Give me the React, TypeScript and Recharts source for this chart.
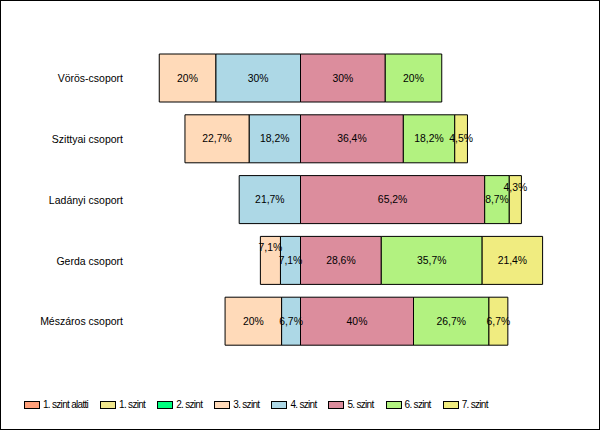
import React from 'react';
import { BarChart, Bar, XAxis, YAxis } from 'recharts';

const categories = ['Vörös-csoport', 'Szittyai csoport', 'Ladányi csoport', 'Gerda csoport', 'Mészáros csoport'];
const levels = ['1. szint alatti', '1. szint', '2. szint', '3. szint', '4. szint', '5. szint', '6. szint', '7. szint'];
const colors = ['#FFA07A', '#F0E68C', '#00FF7F', '#FFDAB9', '#ADD8E6', '#DC8D9D', '#B2F280', '#F0EC80'];

const below1 = [0, 0, 0, 0, 0];
const level1 = [0, 0, 0, 0, 0];
const level2 = [0, 0, 0, 0, 0];
const level3 = [20, 22.7, 0, 7.1, 20];
const level4 = [30, 18.2, 21.7, 7.1, 6.7];
const level5 = [30, 36.4, 65.2, 28.6, 40];
const level6 = [20, 18.2, 8.7, 35.7, 26.7];
const level7 = [0, 4.5, 4.3, 21.4, 6.7];

const series = [below1, level1, level2, level3, level4, level5, level6, level7];
// levels below 5. szint go to the left of the centre line
const leftOrder = [4, 3, 2, 1, 0];
const rightOrder = [5, 6, 7];

const data = categories.map((name, i) => {
  const row: any = { name };
  series.forEach((s, k) => {
    row['s' + k] = k <= 4 ? -s[i] : s[i];
  });
  return row;
});

const FONT = '"Liberation Sans", Arial, sans-serif';
const LABEL_SIZE = 10.4;

const fmt = (v: number) => String(v).replace('.', ',') + '%';
const textWidth = (t: string) => {
  let w = 0;
  for (const c of t) {
    if (c === ',' || c === '.') w += 0.278;
    else if (c === '%') w += 0.889;
    else w += 0.556;
  }
  return w * LABEL_SIZE;
};

// rows with a drawn (non-zero) segment, in order, for each level
const drawnRows = series.map((s) => s.map((v, i) => (v ? i : -1)).filter((i) => i >= 0));

const makeLabel = (k: number, inner: number | null) => (props: any) => {
  const { x, y, width, height, index } = props;
  const row = drawnRows[k][index];
  if (row === undefined) return null;
  const v = series[k][row];
  if (!v) return null;
  const text = fmt(v);
  const cx = x + width / 2;
  let cy = y + height / 2;
  if (inner !== null) {
    const nv = series[inner][row];
    if (nv) {
      const ppu = Math.abs(width) / v;
      const dist = (v / 2 + nv / 2) * ppu;
      const need = (textWidth(text) + textWidth(fmt(nv))) / 2;
      if (dist < need) cy -= 12.5;
    }
  }
  return (
    <text x={cx} y={cy} textAnchor="middle" dominantBaseline="central" fontSize={LABEL_SIZE} fill="#000" fontFamily={FONT}>
      {text}
    </text>
  );
};

const barOrder = [...leftOrder, ...rightOrder];
const innerOf = (k: number): number | null => {
  const li = leftOrder.indexOf(k);
  if (li > 0) return leftOrder[li - 1];
  const ri = rightOrder.indexOf(k);
  if (ri > 0) return rightOrder[ri - 1];
  return null;
};

export default function App() {
  return (
    <div style={{ position: 'absolute', left: 0, top: 0, width: 600, height: 430, background: '#fff', fontFamily: FONT }}>
      <BarChart
        width={600}
        height={430}
        data={data}
        layout="vertical"
        stackOffset="sign"
        margin={{ top: 48, right: 17, bottom: 78, left: 1 }}
        barSize={48}
      >
        <XAxis type="number" domain={[-60, 100]} hide allowDataOverflow />
        <YAxis
          type="category"
          dataKey="name"
          width={130}
          axisLine={false}
          tickLine={false}
          tick={{ fontSize: 10.5, fill: '#000', fontFamily: FONT }}
        />
        {barOrder.map((k) => (
          <Bar
            key={k}
            dataKey={'s' + k}
            name={levels[k]}
            stackId="a"
            fill={colors[k]}
            stroke="#000"
            strokeWidth={1}
            isAnimationActive={false}
            label={makeLabel(k, innerOf(k))}
          />
        ))}
      </BarChart>
      <div style={{ position: 'absolute', left: 24, top: 399, display: 'flex', alignItems: 'center', fontSize: 10, letterSpacing: -0.7, color: '#000', whiteSpace: 'nowrap' }}>
        {levels.map((l, k) => (
          <div key={l} style={{ display: 'flex', alignItems: 'center', marginRight: 12 }}>
            <div style={{ width: 16, height: 8, boxSizing: 'border-box', border: '1px solid #000', background: colors[k], marginRight: 3 }} />
            <span>{l}</span>
          </div>
        ))}
      </div>
      <div style={{ position: 'absolute', left: 0, top: 0, width: 600, height: 430, boxSizing: 'border-box', border: '1px solid #000', pointerEvents: 'none' }} />
    </div>
  );
}
